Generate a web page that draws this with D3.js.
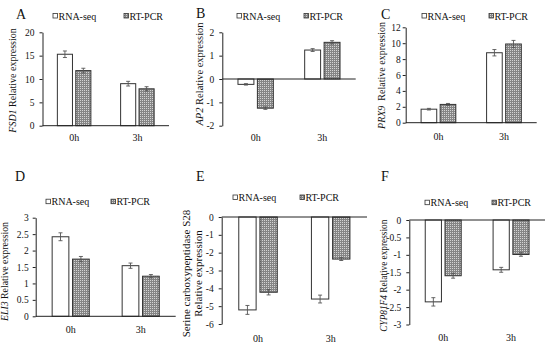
<!DOCTYPE html>
<html>
<head>
<meta charset="utf-8">
<script src="https://cdnjs.cloudflare.com/ajax/libs/d3/7.8.5/d3.min.js"></script>
<style>
body { margin: 0; background: #fff; }
svg { display: block; }
svg text { font-family: "Liberation Serif", "Times New Roman", serif; }
</style>
</head>
<body>
<svg id="chart" width="550" height="348"></svg>
<script>
const timePoints = ["0h", "3h"];
const seriesNames = ["RNA-seq", "RT-PCR"];

// A - FSD1
const fsd1RnaSeq = [15.3, 9.0];
const fsd1RtPcr = [11.8, 7.9];
const fsd1RnaSeqErr = [0.7, 0.5];
const fsd1RtPcrErr = [0.5, 0.45];
const fsd1Ticks = [0, 5, 10, 15, 20];

// B - AP2
const ap2RnaSeq = [-0.23, 1.24];
const ap2RtPcr = [-1.25, 1.57];
const ap2RnaSeqErr = [0.03, 0.06];
const ap2RtPcrErr = [0.05, 0.07];
const ap2Ticks = [-2, -1, 0, 1, 2];

// C - PRX9
const prx9RnaSeq = [1.7, 8.8];
const prx9RtPcr = [2.3, 9.9];
const prx9RnaSeqErr = [0.1, 0.4];
const prx9RtPcrErr = [0.12, 0.45];
const prx9Ticks = [0, 2, 4, 6, 8, 10, 12];

// D - ELI3
const eli3RnaSeq = [2.42, 1.54];
const eli3RtPcr = [1.74, 1.22];
const eli3RnaSeqErr = [0.12, 0.08];
const eli3RtPcrErr = [0.08, 0.05];
const eli3Ticks = [0, 0.5, 1, 1.5, 2, 2.5, 3];

// E - Serine carboxypeptidase S28
const scpRnaSeq = [-5.21, -4.6];
const scpRtPcr = [-4.22, -2.36];
const scpRnaSeqErr = [0.25, 0.22];
const scpRtPcrErr = [0.15, 0.08];
const scpTicks = [-6, -5, -4, -3, -2, -1, 0];

// F - CYP81F4
const cypRnaSeq = [-2.35, -1.43];
const cypRtPcr = [-1.6, -0.99];
const cypRnaSeqErr = [0.12, 0.07];
const cypRtPcrErr = [0.07, 0.05];
const cypTicks = [-3, -2.5, -2, -1.5, -1, -0.5, 0];

const serif = "Liberation Serif, Times New Roman, serif";

// layout of each panel (pixels)
const panels = [
    {letter: "A", gene: "FSD1", label: [" Relative expression"], rna: fsd1RnaSeq, rt: fsd1RtPcr,
     rnaErr: fsd1RnaSeqErr, rtErr: fsd1RtPcrErr, ticks: fsd1Ticks,
     left: 42.5, right: 169, top: 32.3, bottom: 125.7, pad: 5,
     labelX: 16, labelY: 80.5, labelSize: 10, catY: 141, legendY: 16, legendX: [53, 124], letterX: 16, letterY: 19},
    {letter: "B", gene: "AP2", label: [" Relative expression"], rna: ap2RnaSeq, rt: ap2RtPcr,
     rnaErr: ap2RnaSeqErr, rtErr: ap2RtPcrErr, ticks: ap2Ticks,
     left: 222.3, right: 355.7, top: 32.3, bottom: 125.7, pad: 5,
     labelX: 203, labelY: 74, labelSize: 10.5, catY: 140.5, legendY: 16, legendX: [237, 304], letterX: 196, letterY: 18},
    {letter: "C", gene: "PRX9", label: ["  Relative expression"], rna: prx9RnaSeq, rt: prx9RtPcr,
     rnaErr: prx9RnaSeqErr, rtErr: prx9RtPcrErr, ticks: prx9Ticks,
     left: 405.7, right: 536.7, top: 27.3, bottom: 122.7, pad: 2,
     labelX: 385, labelY: 75.5, labelSize: 10, catY: 139.5, legendY: 16, legendX: [422, 489], letterX: 381, letterY: 19},
    {letter: "D", gene: "ELI3", label: [" Relative expression"], rna: eli3RnaSeq, rt: eli3RtPcr,
     rnaErr: eli3RnaSeqErr, rtErr: eli3RtPcrErr, ticks: eli3Ticks,
     left: 35.7, right: 175.7, top: 217.7, bottom: 316.3, pad: 4,
     labelX: 7.5, labelY: 271.5, labelSize: 9.8, catY: 333, legendY: 201.7, legendX: [46, 111], letterX: 15, letterY: 181},
    {letter: "E", gene: null, label: ["Serine carboxypeptidase S28", "Relative expression"], rna: scpRnaSeq, rt: scpRtPcr,
     rnaErr: scpRnaSeqErr, rtErr: scpRtPcrErr, ticks: scpTicks,
     left: 221.7, right: 367, top: 217, bottom: 324, pad: 5,
     labelX: 190, labelY: 273.5, labelSize: 11, catY: 341.5, legendY: 197.5, legendX: [233, 300], letterX: 196, letterY: 181},
    {letter: "F", gene: "CYP81F4", label: [" Relative expression"], rna: cypRnaSeq, rt: cypRtPcr,
     rnaErr: cypRnaSeqErr, rtErr: cypRtPcrErr, ticks: cypTicks,
     left: 409.3, right: 545, top: 220, bottom: 324.5, pad: 5,
     labelX: 386.7, labelY: 275.7, labelSize: 9.3, catY: 340.5, legendY: 202.7, legendX: [425, 492], letterX: 381, letterY: 181}
];

const svg = d3.select("#chart");

// dotted fill for the RT-PCR bars
const pattern = svg.append("defs").append("pattern")
    .attr("id", "dots")
    .attr("patternUnits", "userSpaceOnUse")
    .attr("width", 2)
    .attr("height", 2);
pattern.append("rect").attr("width", 2).attr("height", 2).attr("fill", "#858585");
pattern.append("rect").attr("width", 1).attr("height", 1).attr("fill", "#d4d4d4");

const fills = ["#ffffff", "url(#dots)"];

panels.forEach(function(p) {
    let g = svg.append("g");

    let y = d3.scaleLinear()
        .domain(d3.extent(p.ticks))
        .range([p.bottom, p.top]);

    let x0 = d3.scaleBand()
        .domain(timePoints)
        .range([p.left, p.right])
        .paddingInner(0.47)
        .paddingOuter(0.235);

    let x1 = d3.scaleBand()
        .domain(seriesNames)
        .range([0, x0.bandwidth()])
        .paddingInner(0.18);

    let rows = [];
    timePoints.forEach(function(t, i) {
        rows.push({t: t, s: seriesNames[0], v: p.rna[i], e: p.rnaErr[i]});
        rows.push({t: t, s: seriesNames[1], v: p.rt[i], e: p.rtErr[i]});
    });

    // bars
    g.selectAll("rect.bar")
        .data(rows)
        .enter()
        .append("rect")
        .attr("class", "bar")
        .attr("x", d => x0(d.t) + x1(d.s))
        .attr("y", d => y(Math.max(0, d.v)))
        .attr("width", x1.bandwidth())
        .attr("height", d => Math.abs(y(d.v) - y(0)))
        .attr("fill", d => fills[seriesNames.indexOf(d.s)])
        .attr("stroke", "#333")
        .attr("stroke-width", 1);

    // error bars
    let err = g.selectAll("g.err")
        .data(rows)
        .enter()
        .append("g")
        .attr("class", "err")
        .attr("stroke", "#555")
        .attr("stroke-width", 0.9);
    err.append("line")
        .attr("x1", d => x0(d.t) + x1(d.s) + x1.bandwidth() / 2)
        .attr("x2", d => x0(d.t) + x1(d.s) + x1.bandwidth() / 2)
        .attr("y1", d => y(d.v - d.e))
        .attr("y2", d => y(d.v + d.e));
    [-1, 1].forEach(function(sign) {
        err.append("line")
            .attr("x1", d => x0(d.t) + x1(d.s) + x1.bandwidth() / 2 - 2)
            .attr("x2", d => x0(d.t) + x1(d.s) + x1.bandwidth() / 2 + 2)
            .attr("y1", d => y(d.v + sign * d.e))
            .attr("y2", d => y(d.v + sign * d.e));
    });

    // y axis
    let yAxis = g.append("g")
        .attr("transform", "translate(" + p.left + ",0)")
        .call(d3.axisLeft(y)
            .tickValues(p.ticks)
            .tickSize(3)
            .tickSizeOuter(0)
            .tickPadding(p.pad)
            .tickFormat(d => String(d)));
    yAxis.attr("font-family", serif);
    yAxis.selectAll("text")
        .attr("font-family", serif)
        .attr("font-size", 9.5)
        .attr("fill", "#111");
    yAxis.selectAll("line, path").attr("stroke", "#222").attr("stroke-width", 1);

    // zero line
    g.append("line")
        .attr("x1", p.left)
        .attr("x2", p.right)
        .attr("y1", y(0))
        .attr("y2", y(0))
        .attr("stroke", "#222")
        .attr("stroke-width", 1);

    // category labels
    g.selectAll("text.cat")
        .data(timePoints)
        .enter()
        .append("text")
        .attr("class", "cat")
        .attr("x", d => x0(d) + x0.bandwidth() / 2)
        .attr("y", p.catY)
        .attr("text-anchor", "middle")
        .attr("font-family", serif)
        .attr("font-size", 10)
        .attr("fill", "#111")
        .text(d => d);

    // y label
    let yl = g.append("text")
        .attr("transform", "translate(" + p.labelX + "," + p.labelY + ") rotate(-90)")
        .attr("text-anchor", "middle")
        .attr("font-family", serif)
        .attr("font-size", p.labelSize)
        .attr("fill", "#111")
        .style("white-space", "pre");
    if (p.gene) {
        yl.append("tspan").attr("font-style", "italic").text(p.gene);
        yl.append("tspan").text(p.label[0]);
    } else {
        p.label.forEach(function(line, i) {
            yl.append("tspan")
                .attr("x", 0)
                .attr("dy", i == 0 ? 0 : p.labelSize * 1.05)
                .text(line);
        });
    }

    // legend
    seriesNames.forEach(function(s, i) {
        g.append("rect")
            .attr("x", p.legendX[i])
            .attr("y", p.legendY - 2.5)
            .attr("width", 4.5)
            .attr("height", 4.5)
            .attr("fill", fills[i])
            .attr("stroke", "#333")
            .attr("stroke-width", 0.8);
        g.append("text")
            .attr("x", p.legendX[i] + 5.5)
            .attr("y", p.legendY + 3.5)
            .attr("font-family", serif)
            .attr("font-size", 10)
            .attr("fill", "#111")
            .text(s);
    });

    // panel letter
    g.append("text")
        .attr("x", p.letterX)
        .attr("y", p.letterY)
        .attr("font-family", serif)
        .attr("font-size", 14)
        .attr("fill", "#111")
        .text(p.letter);
});
</script>
</body>
</html>
